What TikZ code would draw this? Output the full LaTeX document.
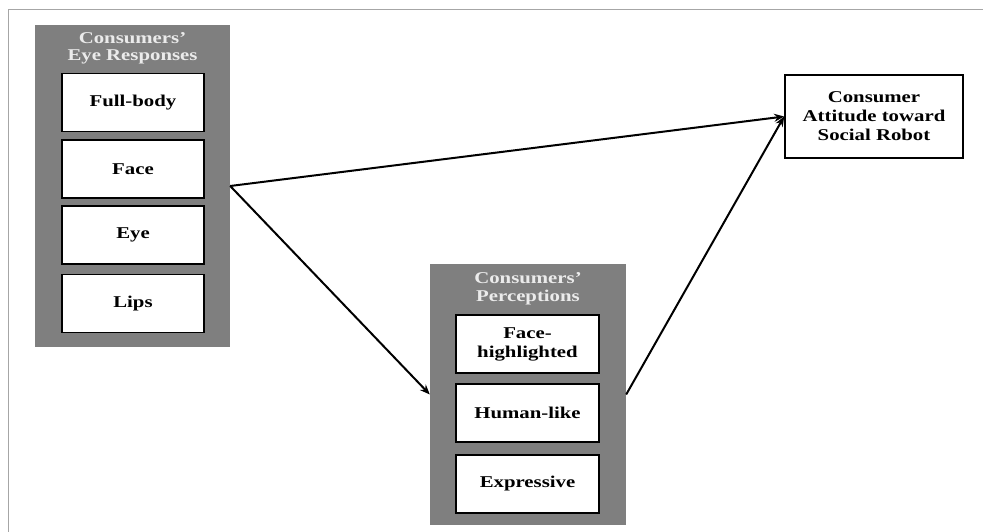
\documentclass[tikz,border=0pt]{standalone}
\usepackage{fontspec}
\setmainfont{Liberation Serif}[FakeStretch=1.26]
\usetikzlibrary{arrows.meta}
\definecolor{panelgray}{HTML}{7F7F7F}
\definecolor{framegray}{HTML}{A6A6A6}
\tikzset{
  panel/.style={fill=panelgray, draw=none, minimum width=#1},
  itembox/.style={draw=black, line width=1.7pt, fill=white, minimum width=142pt, minimum height=58pt, align=center, inner sep=0pt, font=\fontsize{16.5}{19}\selectfont\bfseries},
  paneltitle/.style={text=white!92!black, align=center, inner sep=0pt, font=\fontsize{16.5}{17.5}\selectfont\bfseries},
  link/.style={line width=2pt, -{Stealth[length=10pt,width=8pt]}}
}
\begin{document}
\begin{tikzpicture}[x=1pt,y=-1pt]
\useasboundingbox (0,0) rectangle (983,532);
% partial frame
\coordinate (ftl) at (8.5,9.5);
\coordinate (ftr) at (983,9.5);
\coordinate (fbl) at (8.5,532);
\draw[framegray, line width=1.5pt] (ftr) -- (ftl) -- (fbl);
% left panel
\node[panel=195pt, minimum height=322pt] (lp) at (132.5,186) {};
\node[paneltitle] (lpt) at (132.5,48.5) {Consumers’\\Eye Responses};
\node[itembox] (fb) at (133,102.5) {Full-body};
\node[itembox] (fa) at (133,169) {Face};
\node[itembox] (ey) at (133,235) {Eye};
\node[itembox] (li) at (133,303.5) {Lips};
% middle panel
\node[panel=196pt, minimum height=261pt] (mp) at (528,394.5) {};
\node[paneltitle] (mpt) at (528,289) {Consumers’\\Perceptions};
\node[itembox, minimum width=143pt] (fh) at (527.5,344) {Face-\\highlighted};
\node[itembox, minimum width=143pt] (hl) at (527.5,413) {Human-like};
\node[itembox, minimum width=143pt] (ex) at (527.5,484) {Expressive};
% right box
\node[itembox, minimum width=178pt, minimum height=83pt] (att) at (874,116.5) {Consumer\\Attitude toward\\Social Robot};
% connectors
\draw[link] (lp.east) -- (att.west);
\draw[link] (lp.east) -- (mp.west);
\draw[link] (mp.east) -- (att.west);
\end{tikzpicture}
\end{document}
